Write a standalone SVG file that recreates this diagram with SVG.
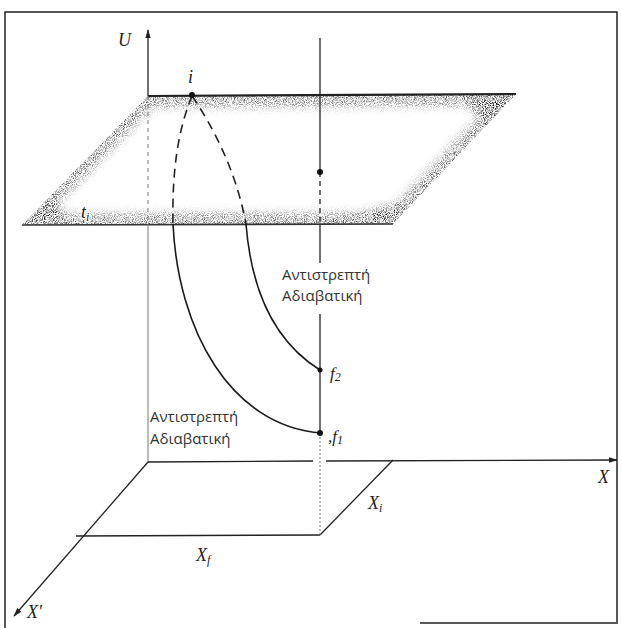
<svg xmlns="http://www.w3.org/2000/svg" width="622" height="628" viewBox="0 0 622 628">
<style>
.ax{stroke:#222;stroke-width:1.3;fill:none}
.thin{stroke:#777;stroke-width:1;fill:none}
.dash{stroke:#222;stroke-width:1.6;fill:none;stroke-dasharray:9 6}
.curve{stroke:#1a1a1a;stroke-width:1.6;fill:none}
.lab{font-family:"Liberation Serif",serif;font-style:italic;fill:#222}
.gr{font-family:"Open Sans","DejaVu Sans",sans-serif;font-size:15px;fill:#333}
.halo{stroke:#fff;stroke-width:2.5;paint-order:stroke;fill:#111}
</style>
<defs>
<marker id="arr" viewBox="0 0 10 10" refX="9" refY="5" markerWidth="9" markerHeight="9" orient="auto-start-reverse" markerUnits="userSpaceOnUse">
<path d="M0,2 L10,5 L0,8 z" fill="#222"/>
</marker>
<clipPath id="pc"><polygon points="148,96 516,94 393,224 22,225"/></clipPath>
<filter id="grain" x="-5%" y="-10%" width="110%" height="120%">
<feGaussianBlur in="SourceGraphic" stdDeviation="5" result="b"/>
<feTurbulence type="fractalNoise" baseFrequency="1.1" numOctaves="1" seed="7" result="n"/>
<feColorMatrix in="n" type="matrix" values="0 0 0 0 0  0 0 0 0 0  0 0 0 0 0  0 0 0 3 -1.25" result="nm"/>
<feComposite in="b" in2="nm" operator="in"/>
</filter>
</defs>
<rect width="622" height="628" fill="#fff"/>
<g id="frame" stroke="#222" stroke-width="1.5" fill="none">
<polyline points="5,628 5,12 617,12 617,622"/>
<line x1="420" y1="623" x2="618" y2="623"/>
</g>
<g id="plane">
<g clip-path="url(#pc)">
<polygon points="148,96 516,94 393,224 22,225" fill="#fff"/>
<g filter="url(#grain)">
<polygon points="148,96 516,94 393,224 22,225" fill="none" stroke="#4a4a4a" stroke-width="22"/>
<polygon points="516,94 460,94 495,135" fill="#000"/>
<polygon points="393,224 320,224 415,200" fill="#000"/>
<polygon points="22,225 70,225 50,195" fill="#000"/>
</g>
</g>
<line x1="148" y1="96" x2="516" y2="94" stroke="#222" stroke-width="2.2"/>
<line x1="22" y1="225" x2="393" y2="224" stroke="#333" stroke-width="1.6"/>
</g>
<g id="connectors">
<line class="ax" x1="148" y1="96" x2="148" y2="30" marker-end="url(#arr)"/>
<line class="thin" x1="148" y1="96" x2="148" y2="224" stroke-dasharray="4 4"/>
<line class="thin" x1="148" y1="224" x2="148" y2="462"/>
<line class="ax" x1="148" y1="462" x2="313" y2="461"/>
<line class="ax" x1="326" y1="461" x2="617" y2="460" marker-end="url(#arr)"/>
<line class="ax" x1="148" y1="462" x2="14" y2="616" marker-end="url(#arr)"/>
<line class="ax" x1="76" y1="536" x2="320" y2="535"/>
<line class="ax" x1="320" y1="535" x2="393" y2="460"/>
<line class="ax" x1="320" y1="38" x2="320" y2="172"/>
<line class="ax" x1="320" y1="172" x2="320" y2="224" stroke-dasharray="5 4"/>
<line class="ax" x1="320" y1="224" x2="320" y2="263"/>
<line class="ax" x1="320" y1="314" x2="320" y2="433"/>
<line class="thin" x1="320" y1="433" x2="320" y2="535" stroke-dasharray="2 2"/>
<path class="dash" d="M192,96 C178,130 172,170 173,224"/>
<path class="dash" d="M192,96 C212,125 236,170 246,224"/>
<path class="curve" d="M173,224 C178,330 230,425 320,433"/>
<path class="curve" d="M246,224 C252,300 280,345 320,370"/>
</g>
<g id="points" fill="#111">
<circle cx="192" cy="95" r="3"/>
<circle cx="320" cy="172" r="3"/>
<circle cx="320" cy="370" r="2.5"/>
<circle cx="320" cy="433" r="3"/>
</g>
<g id="labels">
<text class="lab" x="118" y="46" font-size="18">U</text>
<text class="lab" x="188" y="83" font-size="18">i</text>
<text class="lab halo" x="81" y="218" font-size="18">t<tspan font-size="12" dy="3">i</tspan></text>
<text class="lab" x="330" y="379" font-size="17">f<tspan font-size="12" dy="2">2</tspan></text>
<text class="lab" x="328" y="442" font-size="17">,f<tspan font-size="12" dy="2">1</tspan></text>
<text class="lab" x="598" y="483" font-size="18">X</text>
<text class="lab" x="368" y="509" font-size="18">X<tspan font-size="12" dy="3">i</tspan></text>
<text class="lab" x="196" y="561" font-size="18">X<tspan font-size="12" dy="3">f</tspan></text>
<text class="lab" x="27" y="618" font-size="18">X'</text>
</g>
<g id="label-rev2">
<text class="gr" x="282" y="280">Αντιστρεπτή</text>
<text class="gr" x="282" y="301">Αδιαβατική</text>
</g>
<g id="label-rev1">
<text class="gr" x="150" y="422">Αντιστρεπτή</text>
<text class="gr" x="150" y="444">Αδιαβατική</text>
</g>
</svg>
